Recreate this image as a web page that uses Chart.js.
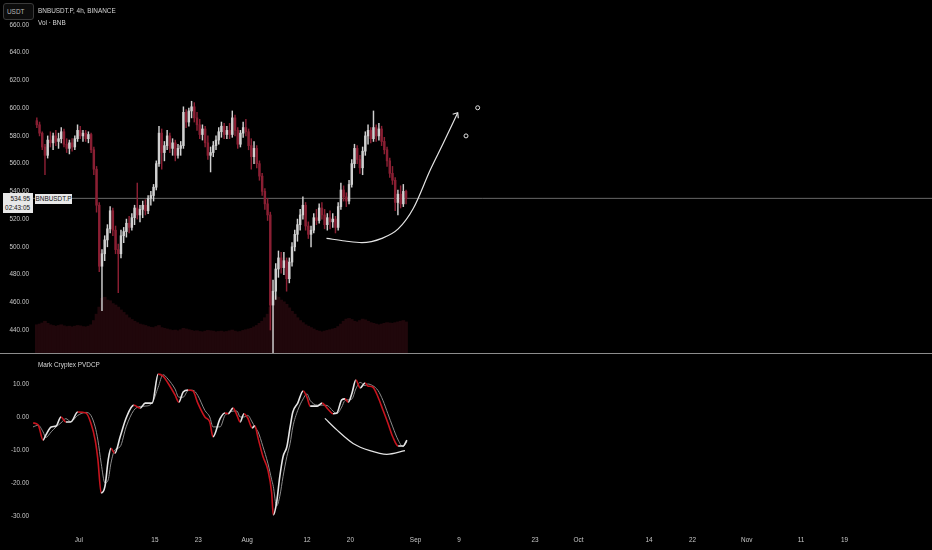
<!DOCTYPE html>
<html>
<head>
<meta charset="utf-8">
<script src="https://cdn.jsdelivr.net/npm/chart.js@4.4.1/dist/chart.umd.min.js"></script>
<style>
  html, body { margin: 0; padding: 0; background: #000; }
  body { width: 932px; height: 550px; position: relative; overflow: hidden; font-family: "Liberation Sans", Arial, sans-serif; }
  canvas { position: absolute; left: 0; }
  #price-chart { top: 0; }
  #osc-chart { top: 354px; }
  .sep { position: absolute; left: 0; top: 353px; width: 932px; height: 1px; background: #8c8c8c; }
  .txt { position: absolute; color: #d6d6d6; font-size: 6.4px; line-height: 1; white-space: nowrap; }
  .unit-box { position: absolute; left: 3px; top: 3px; width: 26px; height: 15px; border: 1px solid #3a3a3a; border-radius: 3px;
              background: #0c0c0c; color: #b8b8b8; font-size: 6.4px; line-height: 15px; padding-left: 3px; }
  .last-box { position: absolute; left: 3px; top: 193px; width: 30px; height: 20px; background: #e8e8e8; color: #111;
              font-size: 6.4px; text-align: right; box-sizing: border-box; padding: 2px 3px 0 0; line-height: 8.5px; }
  .sym-box { position: absolute; left: 35px; top: 194px; width: 37px; height: 10px; background: #e8e8e8; color: #111;
             font-size: 6.4px; line-height: 10px; text-align: center; }
</style>
</head>
<body>
<canvas id="price-chart" width="932" height="353"></canvas>
<div class="sep"></div>
<canvas id="osc-chart" width="932" height="196"></canvas>

<div class="unit-box">USDT</div>
<div class="txt" style="left:38px; top:8px;">BNBUSDT.P, 4h, BINANCE</div>
<div class="txt" style="left:38px; top:20px;">Vol · BNB</div>
<div class="last-box">534.95<br>02:43:05</div>
<div class="sym-box">BNBUSDT.P</div>
<div class="txt" style="left:38px; top:362px;">Mark Cryptex PVDCP</div>

<script>
// Bars are 12h wide, days counted from 1 Jul (first bar 23 Jun)
const firstBarDay = -8;
const barStepDays = 0.5;

const openP = [591,588,582,572,566,577,575,580,576,578,583,574,571,575,572,578,584,580,582,578,
  581,570,556,530,486,495,505,513,526,512,498,495,508,511,517,514,521,528,523,527,
  530,526,535,537,543,560,582,568,573,580,571,575,566,571,573,597,590,598,601,593,
  588,581,585,575,566,568,573,577,583,587,581,584,581,593,584,574,582,586,583,573,
  565,571,560,551,540,531,523,458,468,484,492,485,490,477,489,500,509,516,523,530,
  515,509,512,521,519,528,523,516,521,518,520,514,529,541,536,533,545,560,571,563,
  557,569,580,584,578,586,580,585,576,570,562,553,548,532,538,531,540];
const highP = [593,590,583,574,580,583,582,584,582,586,585,578,577,578,580,588,587,584,584,583,
  582,572,558,532,498,508,516,529,528,515,502,512,514,520,522,524,530,546,530,533,
  534,537,540,545,562,587,585,576,584,582,578,577,574,576,601,599,600,605,604,597,
  592,588,587,580,572,576,580,586,590,589,587,589,598,595,586,584,590,592,585,578,
  576,573,562,553,542,535,525,476,488,497,496,496,492,492,503,512,520,527,536,532,
  518,515,524,527,531,532,527,524,526,524,522,532,546,544,539,548,563,574,573,566,
  572,583,588,586,598,588,589,587,579,572,564,558,550,541,544,545,541];
const lowP = [586,580,570,552,564,572,570,573,571,575,572,568,567,569,570,576,578,576,576,575,
  568,552,525,482,454,490,500,510,508,495,467,492,503,507,510,512,516,520,518,521,
  523,524,530,533,541,558,556,562,570,568,566,562,564,566,571,586,587,593,590,584,
  578,577,572,563,554,565,570,574,579,578,578,578,579,580,571,572,579,580,570,556,
  560,557,548,537,527,519,440,405,462,478,481,480,468,474,486,497,504,512,520,512,
  506,500,510,516,517,520,513,512,513,514,510,512,527,533,529,531,543,557,560,553,
  552,566,574,575,576,576,577,573,567,558,550,545,526,523,528,529,531];
const closeP = [588,582,572,566,577,575,580,576,578,583,574,571,575,572,578,584,580,582,578,581,
  570,556,530,486,495,505,513,526,512,498,495,508,511,517,514,521,528,523,527,530,
  526,535,537,543,560,582,568,573,580,571,575,566,571,573,597,590,598,601,593,588,
  581,585,575,566,568,573,577,583,587,581,584,581,593,584,574,582,586,583,573,565,
  571,560,551,540,531,523,458,468,484,492,485,490,477,489,500,509,516,523,530,515,
  509,512,521,519,528,523,516,521,518,520,514,529,541,536,533,545,560,571,563,557,
  569,580,584,578,586,580,585,576,570,562,553,548,532,538,531,540,534.95];
const volumeK = [80,82,85,90,84,80,78,76,78,80,77,75,76,74,76,78,77,75,74,76,
  80,92,110,130,155,158,150,148,140,136,130,122,115,108,100,95,90,86,82,80,
  78,75,73,72,75,78,72,70,68,66,64,65,63,66,70,68,66,64,62,63,
  61,60,62,64,63,62,60,61,62,60,61,63,65,62,60,61,64,66,68,70,
  74,78,84,90,100,110,130,160,162,158,150,145,138,128,118,110,100,92,86,80,
  76,72,68,64,62,60,62,64,66,68,70,75,82,90,96,98,95,90,88,92,
  96,94,90,86,84,82,80,82,84,86,85,84,86,88,90,92,88];
const lastPrice = 534.95;

// Oscillator pane (Mark Cryptex PVDCP)
const oscDays = [-8.45,-7.5,-6.6,-6.1,-5.1,-4.2,-3.3,-2.4,-1.5,-0.2,1.3,2.2,3.0,3.5,4.1,4.8,5.4,5.9,6.6,7.6,
  8.7,10.1,11.3,12.2,13.5,14.6,15.5,16.4,17.7,18.4,19.2,20.1,21.0,21.9,23.2,24.1,24.7,26.0,26.9,27.5,
  28.4,29.1,29.7,30.4,31.1,31.9,32.4,33.0,33.9,34.8,35.5,35.8,36.4,37.0,37.6,38.3,38.9,39.4,40.3,41.3,
  42.0,42.6,43.9,44.8,45.7,46.8,47.5,48.4,49.0,49.6,50.3,51.0,51.8,52.7,53.2,54.1,55.1,56.0,56.9,57.8,
  58.8,59.7,60.4];
const oscMain = [-1.8,-2.4,-7,-5.5,-3,-2.7,0,-1.5,-1.5,1.5,1.2,-1.8,-7,-13,-23,-21,-13,-9.5,-11,-6,
  -0.3,3.6,2.7,4.2,4.2,13,12.4,10.3,6.7,4.5,7.6,8.2,7.9,4.2,0,-1.5,-6,-0.5,1.2,1,
  2.7,0.6,-1.5,1,-0.3,-3.3,-2.7,-6.4,-12,-16,-23,-29.7,-26,-18,-12,-9,-3,1.5,4.2,7.9,
  6,3.3,3.3,4.2,2.7,1,1.2,5.2,5.5,4.5,7.3,11.2,8.8,10.3,9.4,9.1,6,2.1,-1.8,-6,
  -8.8,-8.8,-7];
const oscSignal = [-3,-2.5,-4.5,-6.2,-4.5,-3,-1.8,-0.5,-1.4,0.5,1.4,0.5,-3,-7,-14,-20,-19,-14,-10,-9,
  -3,2,3.2,3.3,4.3,9,12.8,11.5,8.5,6,6,8,8.1,6.5,2,0,-3,-3,0.5,1.1,
  1.8,1.8,0,0,0.5,-1.5,-3,-4.5,-9,-14,-19,-21,-27,-24,-18,-12,-8,-3,2,5.5,
  7,5,3.6,3.6,3.5,1.8,1,3,5,5.2,5.5,8.5,10.5,9.5,10,9.5,8,5,1,-3,
  -7,-9,-7.5];

// Axis ticks
const priceTicks = [440, 460, 480, 500, 520, 540, 560, 580, 600, 620, 640, 660];
const oscTicks = [10, 0, -10, -20, -30];
const dateTickDays = [0, 14, 22, 31, 42, 50, 62, 70, 84, 92, 105, 113, 123, 133, 141];
const dateTickNames = ['Jul', '15', '23', 'Aug', '12', '20', 'Sep', '9', '23', 'Oct', '14', '22', 'Nov', '11', '19'];

// Hand drawings on the chart
const curveDays = [45.6, 49.0, 52.1, 55.8, 58.8, 61.6, 64.7, 67.1, 69.76];
const curvePrices = [506.1, 504.2, 503.0, 506.1, 512.9, 527.8, 555.4, 574.7, 596.7];
const arrowDays = [68.84, 69.76, 69.87];
const arrowPrices = [595.6, 596.7, 592.7];
const dotDays = [73.44, 71.29];
const dotPrices = [600.3, 580.0];
const oscCurveDays = [45.3, 47.5, 50.5, 53.6, 56.7, 60.05];
const oscCurveVals = [-0.4, -3.9, -8.0, -10.2, -11.3, -10.2];

// Visible ranges
const dayMin = -8.453, dayMax = 157.11;
const priceMin = 423.42, priceMax = 678.03;
const oscMin = -34.24, oscMax = 19.09;

const upColor = '#d0d0d0';
const downColor = '#8a1f33';
const volColor = '#20070b';
const drawColor = '#e4e4e4';
const tickColor = '#c8c8c8';
const tickFont = { family: '"Liberation Sans", Arial, sans-serif', size: 6.4 };

const barX = closeP.map((_, i) => firstBarDay + i * barStepDays + barStepDays / 2);
const candleColors = closeP.map((c, i) => c >= openP[i] ? upColor : downColor);
const pts = (xs, ys) => xs.map((x, i) => ({ x, y: ys[i] }));

// keep the axis strip a fixed width and stop Chart.js insetting the plot for labels
function fixYAxis(scale) {
  scale.width = 33;
  scale.paddingTop = 0;
  scale.paddingBottom = 0;
}

new Chart(document.getElementById('price-chart'), {
  data: {
    datasets: [
      { type: 'line', data: [{ x: dayMin, y: lastPrice }, { x: dayMax, y: lastPrice }],
        borderColor: 'rgba(190,190,190,0.55)', borderWidth: 1, pointRadius: 0, order: 5 },
      { type: 'bar', yAxisID: 'yv', data: pts(barX, volumeK), backgroundColor: volColor,
        barThickness: 3, grouped: false, order: 4 },
      { type: 'bar', data: barX.map((x, i) => ({ x, y: [lowP[i], highP[i]] })), backgroundColor: candleColors,
        barThickness: 0.8, grouped: false, order: 3 },
      { type: 'bar', data: barX.map((x, i) => ({ x, y: [openP[i], closeP[i]] })), backgroundColor: candleColors,
        barThickness: 1.8, grouped: false, minBarLength: 1, order: 2 },
      { type: 'line', data: pts(curveDays, curvePrices), borderColor: drawColor, borderWidth: 1.2,
        pointRadius: 0, cubicInterpolationMode: 'monotone', order: 1 },
      { type: 'line', data: pts(arrowDays, arrowPrices), borderColor: drawColor, borderWidth: 1.2,
        pointRadius: 0, tension: 0, order: 1 },
      { type: 'scatter', data: pts(dotDays, dotPrices), borderColor: drawColor, backgroundColor: '#000',
        borderWidth: 1, pointRadius: 2, order: 0 }
    ]
  },
  options: {
    responsive: false,
    animation: false,
    layout: { padding: 0, autoPadding: false },
    plugins: { legend: { display: false }, tooltip: { enabled: false } },
    scales: {
      x: { type: 'linear', min: dayMin, max: dayMax, offset: false, display: false },
      y: {
        position: 'left', min: priceMin, max: priceMax,
        grid: { display: false, drawTicks: false }, border: { display: false },
        ticks: { color: tickColor, font: tickFont, padding: 4, callback: v => v.toFixed(2) },
        afterBuildTicks: s => { s.ticks = priceTicks.map(v => ({ value: v })); },
        afterFit: fixYAxis
      },
      yv: { display: false, min: 0, max: 1000 }
    }
  }
});

new Chart(document.getElementById('osc-chart'), {
  type: 'line',
  data: {
    datasets: [
      { data: pts(oscDays, oscSignal), borderColor: '#8c8c8c', borderWidth: 1, pointRadius: 0,
        cubicInterpolationMode: 'monotone', order: 3 },
      { data: pts(oscDays, oscMain), borderWidth: 1.6, pointRadius: 0, cubicInterpolationMode: 'monotone',
        borderColor: '#e6e6e6',
        segment: { borderColor: ctx => ctx.p1.parsed.y < ctx.p0.parsed.y ? '#c8141e' : '#e6e6e6' }, order: 2 },
      { data: pts(oscCurveDays, oscCurveVals), borderColor: drawColor, borderWidth: 1.2, pointRadius: 0,
        cubicInterpolationMode: 'monotone', order: 1 }
    ]
  },
  options: {
    responsive: false,
    animation: false,
    layout: { padding: 0, autoPadding: false },
    plugins: { legend: { display: false }, tooltip: { enabled: false } },
    scales: {
      x: {
        type: 'linear', min: dayMin, max: dayMax, offset: false,
        grid: { display: false, drawTicks: false }, border: { display: false },
        ticks: { color: tickColor, font: tickFont, padding: 6, autoSkip: false, maxRotation: 0, minRotation: 0,
                 callback: (v, i) => dateTickNames[i] },
        afterBuildTicks: s => { s.ticks = dateTickDays.map(v => ({ value: v })); },
        afterFit: s => { s.height = 20; s.paddingLeft = 0; s.paddingRight = 0; }
      },
      y: {
        position: 'left', min: oscMin, max: oscMax,
        grid: { display: false, drawTicks: false }, border: { display: false },
        ticks: { color: tickColor, font: tickFont, padding: 4, callback: v => v.toFixed(2) },
        afterBuildTicks: s => { s.ticks = oscTicks.map(v => ({ value: v })); },
        afterFit: fixYAxis
      }
    }
  }
});
</script>
</body>
</html>
